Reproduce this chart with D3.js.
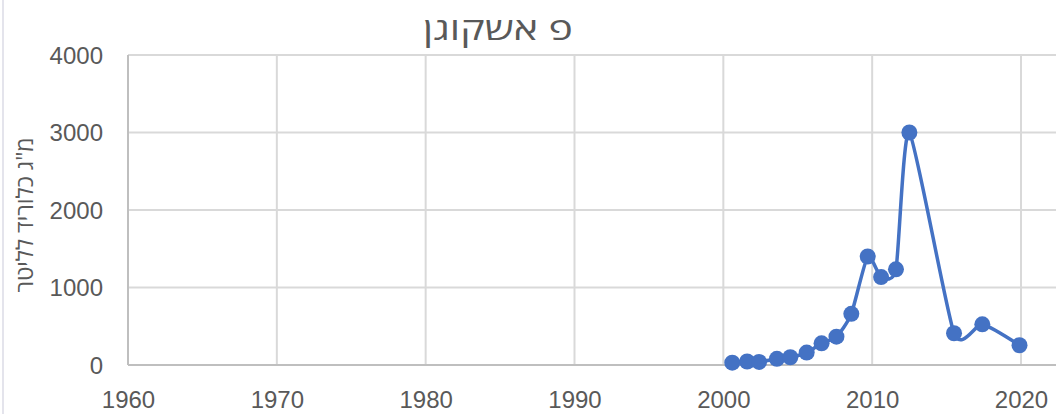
<!DOCTYPE html>
<html><head><meta charset="utf-8">
<script src="https://cdn.jsdelivr.net/npm/d3@7"></script>
<style>
html,body{margin:0;padding:0;background:#fff;}
svg{display:block;font-family:"Open Sans","Noto Sans",sans-serif;}
</style></head>
<body>
<svg id="chart" width="1056" height="414"></svg>
<script>
// Chloride concentration by sample date (decimal years)
const years = [2000.6, 2001.6, 2002.4, 2003.6, 2004.5, 2005.6, 2006.6, 2007.6, 2008.6, 2009.7, 2010.6, 2011.6, 2012.5, 2015.5, 2017.4, 2019.9];
const chloride = [30, 45, 40, 80, 100, 160, 280, 365, 660, 1400, 1135, 1235, 3000, 410, 525, 255];
const xTicks = [1960, 1970, 1980, 1990, 2000, 2010, 2020];
const yTicks = [0, 1000, 2000, 3000, 4000];
const title = "פ אשקוגן";
const yTitle = "מ\"ג כלוריד לליטר";

(function () {
const svg = d3.select("#chart");
const plotL = 128, plotR = 1021, plotT = 55, plotB = 365;

const x = d3.scaleLinear().domain([1960, 2020]).range([plotL, plotR]);
const y = d3.scaleLinear().domain([0, 4000]).range([plotB, plotT]);

const grid = "#d9d9d9", txt = "#595959";

// faint outer frame edge on the left
svg.append("line").attr("x1", 3).attr("x2", 3).attr("y1", 0).attr("y2", 414)
  .attr("stroke", "#e4e4ec").attr("stroke-width", 2);

// horizontal gridlines
svg.append("g").selectAll("line").data(yTicks.filter(d => d > 0)).join("line")
  .attr("x1", plotL).attr("x2", 1056)
  .attr("y1", d => y(d)).attr("y2", d => y(d))
  .attr("stroke", grid).attr("stroke-width", 2);

// vertical gridlines
svg.append("g").selectAll("line").data(xTicks).join("line")
  .attr("x1", d => x(d)).attr("x2", d => x(d))
  .attr("y1", plotT).attr("y2", plotB)
  .attr("stroke", d => d === 1960 ? "#bfbfbf" : grid).attr("stroke-width", 2);

// baseline
svg.append("line").attr("x1", plotL).attr("x2", 1056)
  .attr("y1", y(0)).attr("y2", y(0)).attr("stroke", "#bfbfbf").attr("stroke-width", 2);

// axis tick labels
const xAxis = d3.axisBottom(x).tickValues(xTicks).tickFormat(d3.format("d")).tickSize(0).tickPadding(0);
const gx = svg.append("g").attr("transform", `translate(0,${plotB})`).call(xAxis);
gx.select(".domain").remove();
gx.selectAll("text").attr("fill", txt).attr("font-size", 24).attr("dy", null).attr("y", 43);

const yAxis = d3.axisLeft(y).tickValues(yTicks).tickFormat(d3.format("d")).tickSize(0).tickPadding(0);
const gy = svg.append("g").attr("transform", `translate(103,0)`).call(yAxis);
gy.select(".domain").remove();
gy.selectAll("text").attr("fill", txt).attr("font-size", 24).attr("dy", "0.35em");

// title
svg.append("text").attr("x", 498).attr("y", 40).attr("text-anchor", "middle")
  .attr("fill", txt).attr("font-size", 32)
  .attr("textLength", 150).attr("lengthAdjust", "spacingAndGlyphs").text(title);

// y-axis title
svg.append("text").attr("transform", `translate(33,215) rotate(-90)`)
  .attr("text-anchor", "middle").attr("fill", txt).attr("font-size", 23).text(yTitle);

// series
const pts = years.map((yr, i) => [yr, chloride[i]]);
const line = d3.line().x(d => x(d[0])).y(d => y(d[1])).curve(d3.curveCardinal.tension(0.4));
svg.append("path").datum(pts).attr("d", line)
  .attr("fill", "none").attr("stroke", "#4472c4").attr("stroke-width", 3.5);
svg.append("g").selectAll("circle").data(pts).join("circle")
  .attr("cx", d => x(d[0])).attr("cy", d => y(d[1])).attr("r", 8)
  .attr("fill", "#4472c4");
})();
</script>
</body></html>
